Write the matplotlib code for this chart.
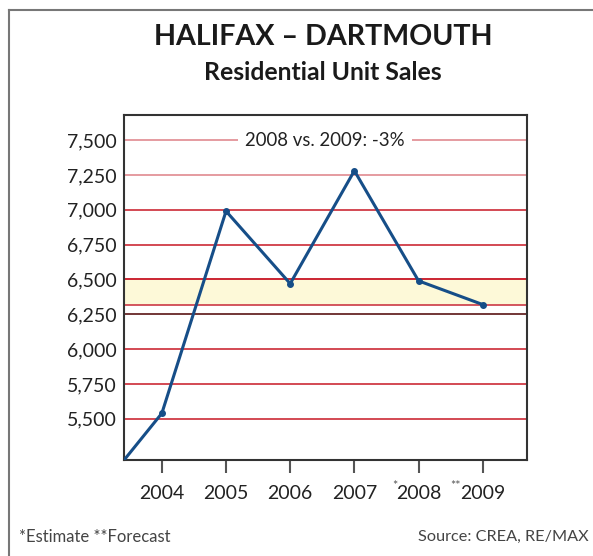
import matplotlib.pyplot as plt
from matplotlib.lines import Line2D

plt.rcParams['font.family'] = ['Lato', 'DejaVu Sans']

# data (2003 point is off the left edge, clipped)
years = [2003, 2004, 2005, 2006, 2007, 2008, 2009]
sales = [4970, 5540, 6990, 6470, 7280, 6490, 6320]
tick_years = [2004, 2005, 2006, 2007, 2008, 2009]
tick_labels = ['2004', '2005', '2006', '2007', '2008', '2009']
tick_marks = ['', '', '', '', '*', '**']
y_ticks = [5500, 5750, 6000, 6250, 6500, 6750, 7000, 7250, 7500]
band = [6320, 6500]

fig = plt.figure(figsize=(5.93, 5.56), dpi=100)
ax = fig.add_axes([0.2091, 0.1727, 0.6796, 0.6205])

ax.set_xlim(2003.41, 2009.69)
ax.set_ylim(5205, 7680)

# gridlines
for v in y_ticks:
    if v >= 7250:
        c = '#e08a90'
    elif v == 6250:
        c = '#5a1414'
    else:
        c = '#cc2a36'
    ax.axhline(v, color=c, lw=1.2, zorder=1)

# yellow band between 2008 and 2009
ax.axhspan(band[0], band[1], facecolor='#fdf9d8', edgecolor='none', zorder=0.5)
ax.axhline(band[0], color='#cc3a46', lw=1.2, zorder=1)
ax.axhline(band[1], color='#cc2a36', lw=1.4, zorder=1)

ax.plot(years, sales, color='#164e88', lw=2.2, marker='o', ms=4, zorder=3)

ax.text(2006.54, 7500, '2008 vs. 2009: -3%', ha='center', va='center',
        fontsize=13.4, color='#222222', zorder=4,
        bbox=dict(facecolor='white', edgecolor='none', pad=5))

ax.set_yticks(y_ticks)
ax.set_yticklabels([f'{v:,}' for v in y_ticks], fontsize=14, color='#222222')
ax.tick_params(axis='y', length=0, pad=5)
ax.set_xticks(tick_years)
ax.set_xticklabels(tick_labels, fontsize=14, color='#222222')
ax.tick_params(axis='x', direction='out', length=9, width=1.5, color='#555555', pad=9)

for yr, m in zip(tick_years, tick_marks):
    if m:
        ax.annotate(m, xy=(yr, 0), xycoords=('data', 'axes fraction'),
                    xytext=(-15.5, -18.5), textcoords='offset points',
                    ha='right', va='center', fontsize=9, color='#555555')

for s in ax.spines.values():
    s.set_color('#333333')
    s.set_linewidth(1.5)

fig.text(0.545, 0.933, 'HALIFAX – DARTMOUTH', ha='center', va='center',
         fontsize=20.6, fontweight='bold', color='#1a1a1a')
fig.text(0.545, 0.869, 'Residential Unit Sales', ha='center', va='center',
         fontsize=17.8, fontweight='bold', color='#1a1a1a')

fig.text(0.032, 0.035, '*Estimate **Forecast', ha='left', va='center',
         fontsize=12, color='#444444')
fig.text(0.992, 0.035, 'Source: CREA, RE/MAX', ha='right', va='center',
         fontsize=11.7, color='#444444')

# outer frame (left and top edges)
fig.add_artist(Line2D([0.015, 0.015], [0, 0.982], color='#777777', lw=1.5,
                      transform=fig.transFigure))
fig.add_artist(Line2D([0.015, 1.0], [0.982, 0.982], color='#777777', lw=1.5,
                      transform=fig.transFigure))

fig.savefig('out.png', dpi=100)
